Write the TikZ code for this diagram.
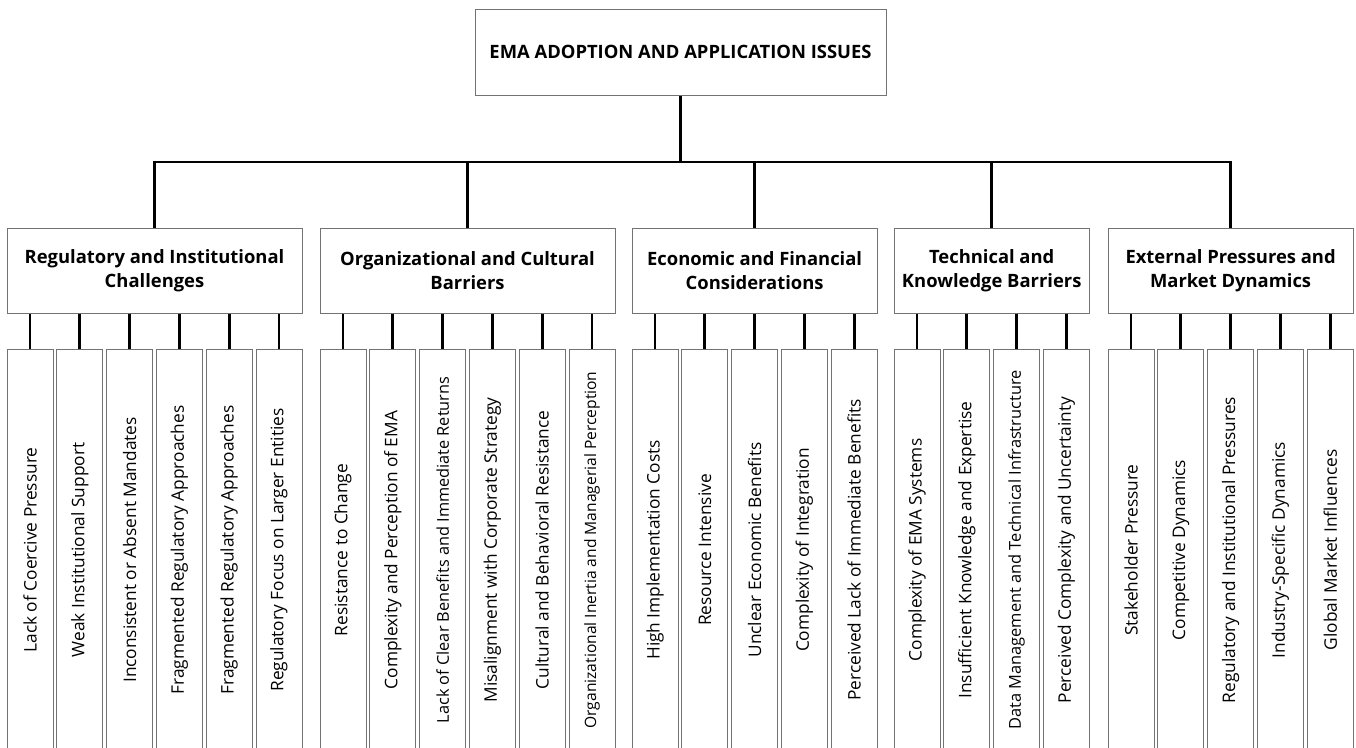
\documentclass[tikz,border=0pt]{standalone}
\usepackage{fontspec}
\setmainfont{Open Sans}
\tikzset{
  conn/.style={line width=2.8pt, black},
  boxline/.style={draw=black!55, line width=1pt},
  topbox/.style={boxline, minimum width=411pt, minimum height=86pt, inner sep=0pt,
    font=\bfseries\fontsize{18.4}{22}\selectfont},
  catbox/.style={boxline, minimum height=85pt, inner sep=0pt, align=center,
    font=\bfseries\fontsize{18.4}{23.5}\selectfont},
  leafbox/.style={boxline, rotate=90, minimum width=402pt, minimum height=46pt,
    inner sep=0pt, font=\fontsize{17.3}{20}\selectfont}
}
\begin{document}
\begin{tikzpicture}[x=1pt,y=-1pt]
\path[use as bounding box] (0,0) rectangle (1356,747);
\clip (0,0) rectangle (1356,747);
\fill[white] (0,0) rectangle (1356,747);

\node[topbox] (top) at (680.5,52) {EMA ADOPTION AND APPLICATION ISSUES};

\node[catbox, minimum width=295pt] (c1) at (154.5,270.5) {Regulatory and Institutional\\Challenges};
\node[catbox, minimum width=295pt] (c2) at (467.5,270.5) {Organizational and Cultural\\Barriers};
\node[catbox, minimum width=245.2pt] (c3) at (754.6,270.5) {Economic and Financial\\Considerations};
\node[catbox, minimum width=195.4pt] (c4) at (991.7,270.5) {Technical and\\Knowledge Barriers};
\node[catbox, minimum width=245.2pt] (c5) at (1230.6,270.5) {External Pressures and\\Market Dynamics};

\coordinate (bus) at (680.5,162);
\draw[conn] (top.south) -- (top.south |- bus);
\draw[conn, line cap=rect] (c1.north |- bus) -- (c5.north |- bus);
\foreach \c in {c1,c2,c3,c4,c5} \draw[conn] (\c.north) -- (\c.north |- bus);

\foreach \t [count=\i] in {Lack of Coercive Pressure, Weak Institutional Support,
  Inconsistent or Absent Mandates, Fragmented Regulatory Approaches,
  Fragmented Regulatory Approaches, Regulatory Focus on Larger Entities}
{
  \node[leafbox] (a\i) at ({30+(\i-1)*49.8},550) {\t};
  \draw[conn] (a\i.east) -- (a\i.east |- c1.south);
}
\foreach \t [count=\i] in {Resistance to Change, Complexity and Perception of EMA,
  {\fontsize{16.3}{19}\selectfont Lack of Clear Benefits and Immediate Returns},
  Misalignment with Corporate Strategy,
  Cultural and Behavioral Resistance,
  {\fontsize{15.6}{18}\selectfont Organizational Inertia and Managerial Perception}}
{
  \node[leafbox] (b\i) at ({343+(\i-1)*49.8},550) {\t};
  \draw[conn] (b\i.east) -- (b\i.east |- c2.south);
}
\foreach \t [count=\i] in {High Implementation Costs, Resource Intensive,
  Unclear Economic Benefits, Complexity of Integration,
  Perceived Lack of Immediate Benefits}
{
  \node[leafbox] (d\i) at ({655+(\i-1)*49.8},550) {\t};
  \draw[conn] (d\i.east) -- (d\i.east |- c3.south);
}
\foreach \t [count=\i] in {Complexity of EMA Systems, Insufficient Knowledge and Expertise,
  {\fontsize{16.4}{19}\selectfont Data Management and Technical Infrastructure},
  Perceived Complexity and Uncertainty}
{
  \node[leafbox] (e\i) at ({917+(\i-1)*49.8},550) {\t};
  \draw[conn] (e\i.east) -- (e\i.east |- c4.south);
}
\foreach \t [count=\i] in {Stakeholder Pressure, Competitive Dynamics,
  Regulatory and Institutional Pressures, Industry-Specific Dynamics,
  Global Market Influences}
{
  \node[leafbox] (f\i) at ({1131+(\i-1)*49.8},550) {\t};
  \draw[conn] (f\i.east) -- (f\i.east |- c5.south);
}
\end{tikzpicture}
\end{document}
